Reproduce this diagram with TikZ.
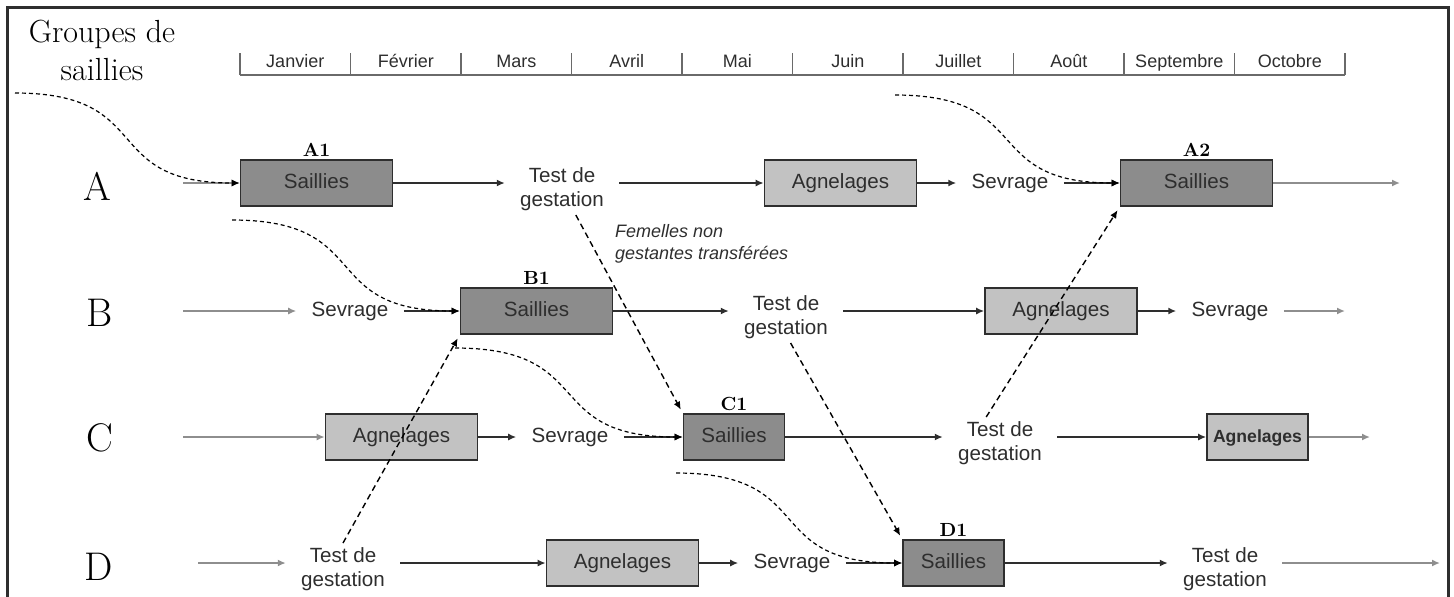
\documentclass[tikz,border=0pt]{standalone}
\usepackage{fontspec}
\setsansfont{Liberation Sans}
\usetikzlibrary{arrows.meta}

\definecolor{boxdark}{HTML}{8C8C8C}
\definecolor{boxlight}{HTML}{C2C2C2}
\definecolor{ink}{HTML}{2E2E2E}
\definecolor{lightink}{HTML}{8E8E8E}
\definecolor{rule}{HTML}{6A6A6A}

\tikzset{
  saillie/.style={draw=ink, line width=0.8pt, fill=boxdark, minimum width=76pt, minimum height=23pt, inner sep=0pt, text height=7.5pt, text depth=2pt, text=ink, font=\sffamily\fontsize{10.3}{12}\selectfont},
  petitesaillie/.style={saillie, minimum width=50.5pt},
  agnel/.style={saillie, fill=boxlight},
  petitagnel/.style={agnel, minimum width=50.5pt, font=\sffamily\bfseries\fontsize{8.8}{10}\selectfont},
  etape/.style={align=center, inner xsep=7.5pt, inner ysep=2pt, text=ink, font=\sffamily\fontsize{10.3}{12}\selectfont},
  mois/.style={text=ink, text height=6.6pt, text depth=1.8pt, font=\sffamily\fontsize{9}{10}\selectfont},
  rang/.style={text=black, font=\fontsize{20}{20}\selectfont},
  lettre/.style={anchor=south, inner sep=1pt, text=black, font=\bfseries\fontsize{9.5}{10}\selectfont},
  fleche/.style={draw=ink, line width=0.8pt, -{Latex[length=4pt,width=3.5pt]}},
  grise/.style={draw=lightink, line width=0.8pt, -{Latex[length=4pt,width=3.5pt]}},
  lien/.style={draw=black, line width=0.7pt, dash pattern=on 3pt off 2pt, shorten >=2pt, -{Latex[length=4pt,width=3.5pt]}},
  courbe/.style={draw=black, line width=0.6pt, dash pattern=on 2pt off 1.5pt, -{Latex[length=4pt,width=3.5pt]}}
}

\begin{document}
\begin{tikzpicture}[x=0.5pt, y=-0.5pt]
  \useasboundingbox (0,0) rectangle (1454,596);
  % frame
  \draw[draw=ink, line width=1.5pt] (7,600) -- (7,7) -- (1448,7) -- (1448,600);

  % title and months
  \node[align=center, font=\fontsize{16}{19}\selectfont] (titre) at (102,50) {Groupes de\\saillies};
  \draw[draw=rule, line width=0.8pt] (240,75) -- (1345,75);
  \foreach \i in {0,...,10}
    \draw[draw=rule, line width=0.8pt] ({240+110.5*\i},53) -- ({240+110.5*\i},75);
  \foreach \m [count=\i from 0] in {Janvier,Février,Mars,Avril,Mai,Juin,Juillet,Août,Septembre,Octobre}
    \node[mois] (m\i) at ({295.25+110.5*\i},63) {\m};

  % row labels
  \node[rang] (rA) at (97,186) {A};
  \node[rang] (rB) at (100,313) {B};
  \node[rang] (rC) at (100,438) {C};
  \node[rang] (rD) at (99,567) {D};

  % row A
  \coordinate (inA) at (183,183);
  \node[saillie] (A1) at (316.5,183) {Saillies};
  \node[etape] (tA) at (562,189) {Test de\\gestation};
  \node[agnel] (agA) at (840.5,183) {Agnelages};
  \node[etape] (sA) at (1010,183) {Sevrage};
  \node[saillie] (A2) at (1196.5,183) {Saillies};
  \coordinate (outA) at (1400,183);

  % row B
  \coordinate (inB) at (183,311);
  \node[etape] (sB) at (350,311) {Sevrage};
  \node[saillie] (B1) at (536.5,311) {Saillies};
  \node[etape] (tB) at (786,317) {Test de\\gestation};
  \node[agnel] (agB) at (1061,311) {Agnelages};
  \node[etape] (sB2) at (1230,311) {Sevrage};
  \coordinate (outB) at (1345,311);

  % row C
  \coordinate (inC) at (183,437);
  \node[agnel] (agC) at (401.5,437) {Agnelages};
  \node[etape] (sC) at (570,437) {Sevrage};
  \node[petitesaillie] (C1) at (734,437) {Saillies};
  \node[etape] (tC) at (1000,443) {Test de\\gestation};
  \node[petitagnel] (agC2) at (1257.5,437) {Agnelages};
  \coordinate (outC) at (1370,437);

  % row D
  \coordinate (inD) at (198,563);
  \node[etape] (tD) at (343,569) {Test de\\gestation};
  \node[agnel] (agD) at (622.5,563) {Agnelages};
  \node[etape] (sD) at (792,563) {Sevrage};
  \node[petitesaillie] (D1) at (953.5,563) {Saillies};
  \node[etape] (tD2) at (1225,569) {Test de\\gestation};
  \coordinate (outD) at (1440,563);

  % group names
  \node[lettre] (nA1) at (A1.north) {A1};
  \node[lettre] (nA2) at (A2.north) {A2};
  \node[lettre] (nB1) at (B1.north) {B1};
  \node[lettre] (nC1) at (C1.north) {C1};
  \node[lettre] (nD1) at (D1.north) {D1};

  \node[anchor=west, align=left, text=ink, font=\sffamily\itshape\fontsize{9}{11}\selectfont] (fem) at (608,244) {Femelles non\\gestantes transférées};

  % flow along each row
  \draw[grise] (inA) -- (A1.west);
  \draw[fleche] (A1.east) -- (A1.east -| tA.west);
  \draw[fleche] (tA.east |- agA.west) -- (agA.west);
  \draw[fleche] (agA) -- (sA);
  \draw[fleche] (sA) -- (A2);
  \draw[grise] (A2.east) -- (outA);

  \draw[grise] (inB) -- (sB);
  \draw[fleche] (sB) -- (B1);
  \draw[fleche] (B1.east) -- (B1.east -| tB.west);
  \draw[fleche] (tB.east |- agB.west) -- (agB.west);
  \draw[fleche] (agB) -- (sB2);
  \draw[grise] (sB2.east) -- (outB);

  \draw[grise] (inC) -- (agC.west);
  \draw[fleche] (agC) -- (sC);
  \draw[fleche] (sC) -- (C1);
  \draw[fleche] (C1.east) -- (C1.east -| tC.west);
  \draw[fleche] (tC.east |- agC2.west) -- (agC2.west);
  \draw[grise] (agC2.east) -- (outC);

  \draw[grise] (inD) -- (inD -| tD.west);
  \draw[fleche] (tD.east |- agD.west) -- (agD.west);
  \draw[fleche] (agD) -- (sD);
  \draw[fleche] (sD) -- (D1);
  \draw[fleche] (D1.east) -- (D1.east -| tD2.west);
  \draw[grise] (tD2.east |- outD) -- (outD);

  % transfers between groups
  \draw[lien] (tA.-62) -- (C1.north west);
  \draw[lien] (tB.-80) -- (D1.north west);
  \draw[lien] (tC.118) -- (A2.south west);
  \draw[lien] (tD.north) -- (B1.south west);

  % curves from the previous groups
  \coordinate (dA) at (15,93);
  \coordinate (dB) at (232,220);
  \coordinate (dC) at (455,348);
  \coordinate (dD) at (676,473);
  \coordinate (dA2) at (895,95);
  \draw[courbe] (dA) to[out=0, in=180, looseness=1.5] (A1.west);
  \draw[courbe] (dB) to[out=0, in=180, looseness=1.5] (B1.west);
  \draw[courbe] (dC) to[out=0, in=180, looseness=1.5] (C1.west);
  \draw[courbe] (dD) to[out=0, in=180, looseness=1.5] (D1.west);
  \draw[courbe] (dA2) to[out=0, in=180, looseness=1.5] (A2.west);
\end{tikzpicture}
\end{document}
